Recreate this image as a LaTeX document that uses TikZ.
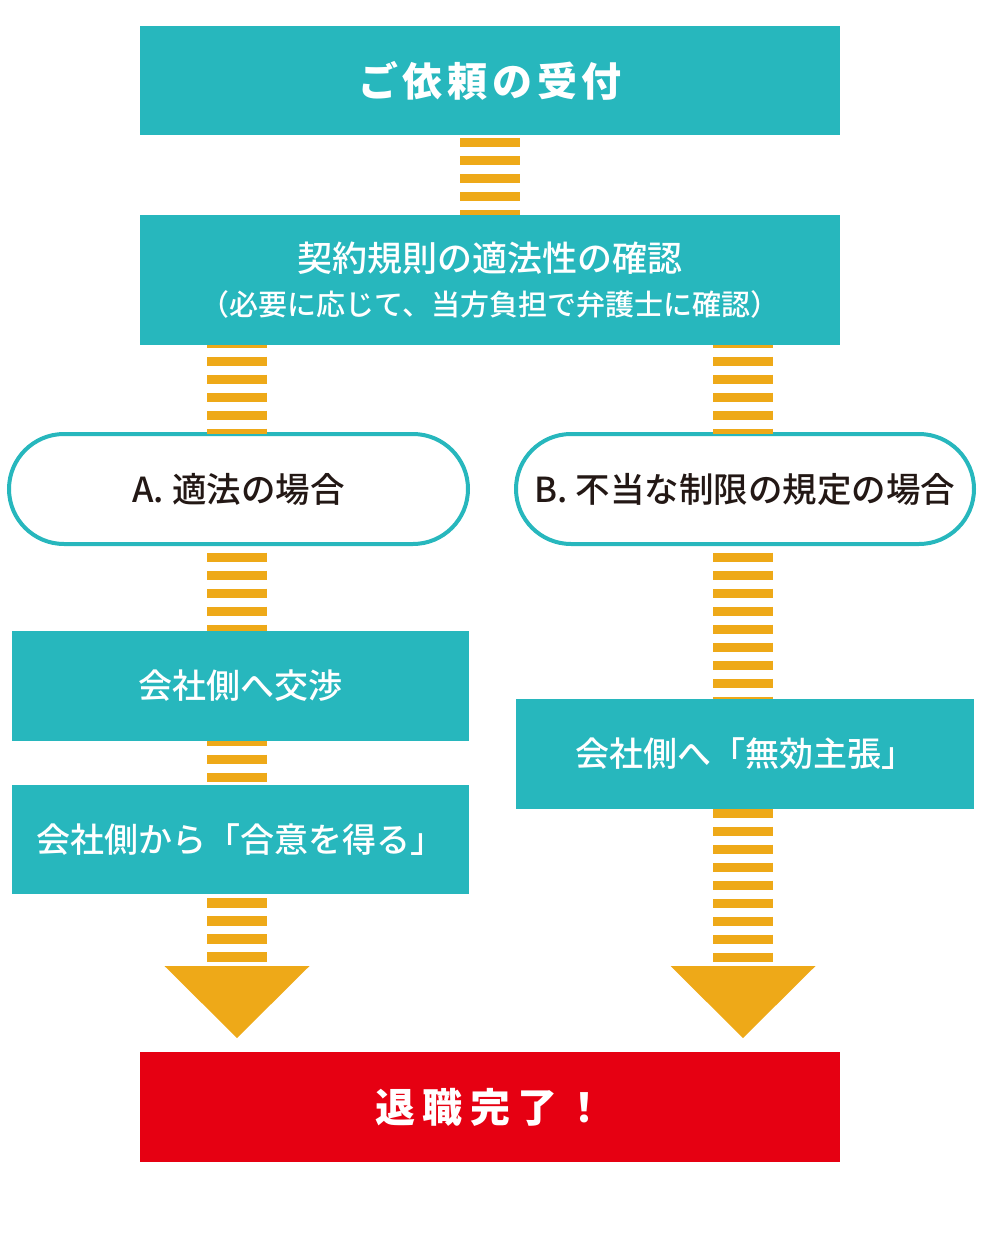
\documentclass[tikz,border=0pt]{standalone}
\usepackage{fontspec}
\setmainfont{Noto Sans CJK JP Medium}
\newfontfamily\headfont[LetterSpace=12]{Noto Sans CJK JP Black}
\usetikzlibrary{arrows.meta}
\definecolor{flowteal}{HTML}{27B7BD}
\definecolor{flowgold}{HTML}{EEA918}
\definecolor{flowred}{HTML}{E60012}
\definecolor{flowink}{HTML}{231815}

\begin{document}
\begin{tikzpicture}[x=1pt,y=-1pt,every node/.style={outer sep=0pt,inner sep=0pt,text=white},
  flowbox/.style={fill=flowteal,minimum width=700pt,minimum height=109pt},
  casebox/.style={fill=flowteal,minimum width=457pt,minimum height=110pt,font=\fontsize{34}{40}\selectfont},
  casepill/.style={draw=flowteal,line width=4pt,fill=white,rounded corners=55pt,minimum width=457pt,minimum height=110pt,text=flowink,font=\fontsize{34.5}{40}\selectfont},
  ladder/.style={draw=flowgold,line width=60pt,dash pattern=on 9.5pt off 8.5pt},
  ladderend/.style={ladder,-{Triangle[width=145pt,length=72pt,line width=0pt]},shorten >=14pt}]
            \useasboundingbox (0,0) rectangle (985,1233);
            \node[flowbox,font=\headfont\fontsize{40}{48}\selectfont] (recv) at (490,80.5) {ご依頼の受付};
            \node[flowbox,minimum height=130pt,align=center] (check) at (490,280)
              {\fontsize{35}{42}\selectfont 契約規則の適法性の確認\\[15pt]\fontsize{29}{35}\selectfont （必要に応じて、当方負担で弁護士に確認）};
            \node[casepill,minimum width=459pt] (caseA) at (238.5,489) {A. 適法の場合};
            \node[casepill,minimum width=458pt] (caseB) at (745,489) {B. 不当な制限の規定の場合};
            \node[casebox] (talkA) at (240.5,686) {会社側へ交渉};
            \node[casebox,minimum height=109pt] (agreeA) at (240.5,839.5) {会社側から「合意を得る」};
            \node[casebox,minimum width=458pt] (voidB) at (745,754) {会社側へ「無効主張」};
            \node[flowbox,fill=flowred,minimum height=110pt,font=\headfont\addfontfeatures{LetterSpace=18}\fontsize{40}{48}\selectfont] (done) at (490,1107) {退職完了！};
              \draw[ladder,dash phase=15pt] (recv.south) -- (check.north);
              \draw[ladder,dash phase=6.5pt] (check.south -| 237,0) -- (caseA.north -| 237,0);
              \draw[ladder,dash phase=6.5pt] (check.south -| 743,0) -- (caseB.north -| 743,0);
              \draw[ladder,dash phase=9.5pt] (caseA.south -| 237,0) -- (talkA.north -| 237,0);
              \draw[ladder,dash phase=4.5pt] (talkA.south -| 237,0) -- (agreeA.north -| 237,0);
              \draw[ladderend,dash phase=14pt] (agreeA.south -| 237,0) -- (done.north -| 237,0);
              \draw[ladder,dash phase=9.5pt] (caseB.south -| 743,0) -- (voidB.north -| 743,0);
              \draw[ladderend,dash phase=0.5pt] (voidB.south -| 743,0) -- (done.north -| 743,0);
            \end{tikzpicture}
\end{document}
